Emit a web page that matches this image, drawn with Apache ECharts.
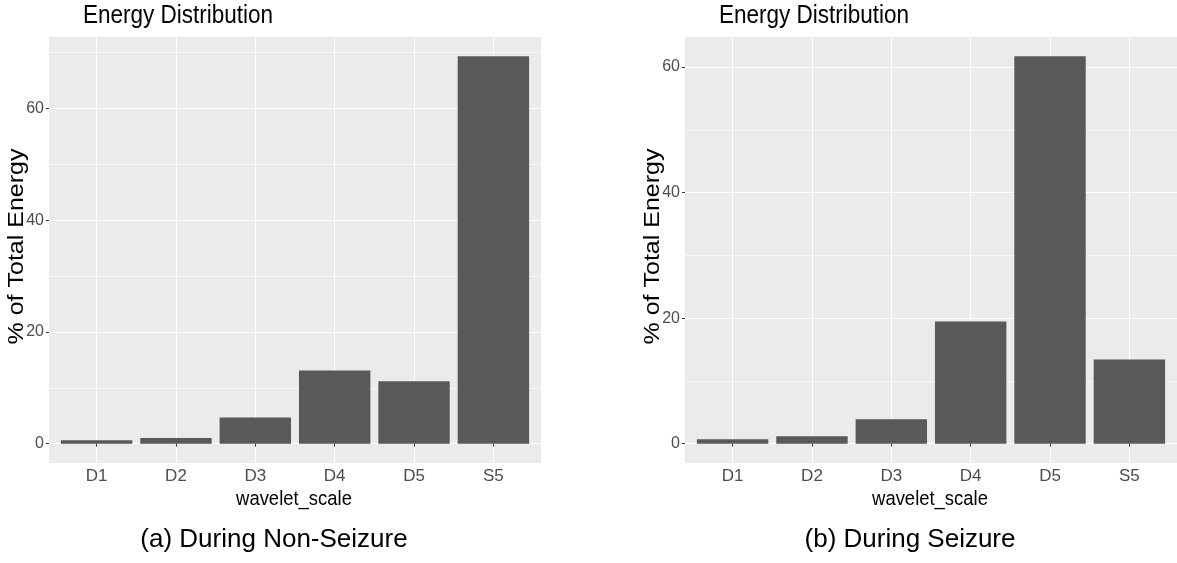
<!DOCTYPE html>
<html>
<head>
<meta charset="utf-8">
<script src="https://cdn.jsdelivr.net/npm/echarts@6/dist/echarts.min.js"></script>
<style>
  html, body { margin: 0; padding: 0; background: #fff; }
  #main { width: 1177px; height: 563px; }
</style>
</head>
<body>
<div id="main"></div>
<script>
var categories = ['D1', 'D2', 'D3', 'D4', 'D5', 'S5'];
var nonSeizure = [0.59, 1.0, 4.7, 13.1, 11.15, 69.35];
var seizure = [0.68, 1.16, 3.87, 19.45, 61.7, 13.4];
var majorTicks = [0, 20, 40, 60];
var minorTicks = [10, 30, 50, 70];

var chart = echarts.init(document.getElementById('main'), null, { renderer: 'canvas' });

var sans = '"Liberation Sans", Arial, sans-serif';
var squeeze = 0.9; // plot texts look horizontally condensed

// panel geometry (ggplot style: 0.6 category expansion each side)
var panels = [
  { left: 49, width: 492, values: nonSeizure, caption: '(a) During Non-Seizure', capX: 274 },
  { left: 685, width: 492, values: seizure, caption: '(b) During Seizure', capX: 910 }
];
var plotTop = 37, plotHeight = 426;

var grids = [], xAxes = [], yAxes = [], series = [], texts = [];

panels.forEach(function (p) {
  var unit = p.width / 6.2;
  var vmax = Math.max.apply(null, p.values);
  var ymin = -0.05 * vmax, ymax = 1.05 * vmax;
  var outer = grids.length;
  grids.push({ left: p.left, top: plotTop, width: p.width, height: plotHeight,
    show: true, backgroundColor: '#EBEBEB', borderWidth: 0 });
  var inner = grids.length;
  grids.push({ left: p.left + 0.6 * unit, top: plotTop, width: 5 * unit, height: plotHeight });

  xAxes.push({ gridIndex: outer, type: 'value', min: 0, max: 1, show: false });
  xAxes.push({
    gridIndex: inner, type: 'category', data: categories, boundaryGap: false,
    axisLine: { show: false },
    axisTick: { show: true, length: 3, lineStyle: { color: '#333333', width: 1 } },
    axisLabel: { color: '#4D4D4D', fontFamily: sans, fontSize: 17, margin: 5 },
    splitLine: { show: true, lineStyle: { color: '#FFFFFF', width: 1.1 } }
  });

  // major lines + labels
  yAxes.push({
    gridIndex: outer, type: 'value', min: ymin, max: ymax,
    axisLine: { show: false },
    axisTick: { show: true, length: 3, customValues: majorTicks, lineStyle: { color: '#333333' } },
    axisLabel: { customValues: majorTicks, color: '#4D4D4D', fontFamily: sans, fontSize: 16, margin: 5 },
    splitLine: { show: true, lineStyle: { color: '#FFFFFF', width: 1.2 } }
  });
  // minor lines
  yAxes.push({
    gridIndex: outer, type: 'value', min: ymin, max: ymax, position: 'left',
    axisLine: { show: false },
    axisTick: { show: false, customValues: minorTicks },
    axisLabel: { show: false, customValues: minorTicks },
    splitLine: { show: true, lineStyle: { color: '#FFFFFF', width: 0.6 } }
  });
  // bars
  yAxes.push({ gridIndex: inner, type: 'value', min: ymin, max: ymax, show: false });

  series.push({
    type: 'bar', xAxisIndex: xAxes.length - 1, yAxisIndex: yAxes.length - 1,
    data: p.values, barWidth: '90%', clip: false, silent: true,
    itemStyle: { color: '#595959' }
  });

  // titles, axis names, caption
  texts.push({ type: 'text', x: p.left + 34, y: 16.5, scaleX: squeeze,
    style: { text: 'Energy Distribution', font: '25px ' + sans, fill: '#000', textVerticalAlign: 'middle' } });
  texts.push({ type: 'text', x: p.left + p.width / 2 - 1, y: 499.5, scaleX: squeeze,
    style: { text: 'wavelet_scale', font: '20.5px ' + sans, fill: '#000', textAlign: 'center', textVerticalAlign: 'middle' } });
  texts.push({ type: 'text', x: p.left - 32, y: 246.5, rotation: Math.PI / 2, scaleY: squeeze,
    style: { text: '% of Total Energy', font: '25px ' + sans, fill: '#000', textAlign: 'center', textVerticalAlign: 'middle' } });
  texts.push({ type: 'text', x: p.capX, y: 540,
    style: { text: p.caption, font: '26px ' + sans, fill: '#000', textAlign: 'center', textVerticalAlign: 'middle' } });
});

var option = {
  animation: false,
  grid: grids,
  xAxis: xAxes,
  yAxis: yAxes,
  series: series,
  graphic: texts
};

chart.setOption(option);
</script>
</body>
</html>
